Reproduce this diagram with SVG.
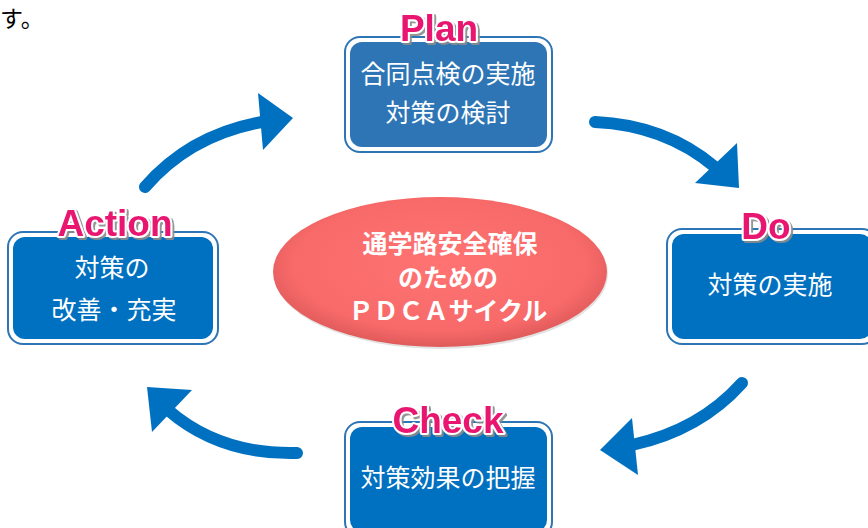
<svg xmlns="http://www.w3.org/2000/svg" width="868" height="528" viewBox="0 0 868 528">
<defs>
<style>
.outer{fill:#ffffff;stroke:#2E75B6;stroke-width:2}
.inner{fill:#0070C0}
.innerP{fill:#2E75B6}
.t{font-family:"Noto Sans CJK JP","Noto Sans",sans-serif;font-size:25px;fill:#ffffff;text-anchor:middle}
.et{font-family:"Noto Sans CJK JP","Noto Sans",sans-serif;font-size:25px;font-weight:bold;fill:#ffffff;text-anchor:middle}
.lbl{font-family:"Liberation Sans","Noto Sans",sans-serif;font-size:37px;font-weight:bold;fill:#E8196F;stroke:#ffffff;stroke-width:4;paint-order:stroke;stroke-linejoin:round;text-anchor:middle;filter:url(#ds)}
.shaft{fill:none;stroke:#0070C0;stroke-width:12;stroke-linecap:round}
.head{fill:#0070C0}
</style>
<filter id="ds" x="-20%" y="-30%" width="140%" height="160%">
<feDropShadow dx="2" dy="2" stdDeviation="0.6" flood-color="#8a8a8a" flood-opacity="0.9"/>
</filter>
<radialGradient id="eg" cx="0.5" cy="0.45" r="0.55">
<stop offset="0" stop-color="#FF7373"/>
<stop offset="0.8" stop-color="#F86A6A"/>
<stop offset="1" stop-color="#E05A5A"/>
</radialGradient>
</defs>
<rect width="868" height="528" fill="#ffffff"/>
<text x="0" y="27" font-family="Noto Sans CJK JP,sans-serif" font-size="23" fill="#000000">す。</text>

<g id="connectors">
<path class="shaft" d="M145,187 Q190,135 262,122"/>
<polygon class="head" points="258,93 293,118 263,150"/>
<path class="shaft" d="M595,122 Q665,125 715,167"/>
<polygon class="head" points="737,143 739,188 695,183"/>
<path class="shaft" d="M742,383 Q700,430 632,445"/>
<polygon class="head" points="632,418 600,450 638,475"/>
<path class="shaft" d="M297,453 Q220,455 168,410"/>
<polygon class="head" points="147,387 192,390 152,432"/>
</g>

<g id="center">
<ellipse cx="441" cy="274" rx="167" ry="75" fill="#cfcfcf" opacity="0.6"/>
<ellipse cx="440" cy="272" rx="167" ry="75" fill="url(#eg)"/>
<text class="et" x="450" y="253">通学路安全確保</text>
<text class="et" x="448" y="287">のための</text>
<text class="et" x="448" y="320">ＰＤＣＡサイクル</text>
</g>

<g id="plan">
<rect class="outer" x="345" y="37" width="207" height="115" rx="15"/>
<rect class="innerP" x="350" y="42" width="197" height="105" rx="12"/>
<text class="lbl" x="439" y="41">Plan</text>
<text class="t" x="448" y="83">合同点検の実施</text>
<text class="t" x="448" y="122">対策の検討</text>
</g>

<g id="do">
<rect class="outer" x="667" y="229" width="210" height="115" rx="15"/>
<rect class="inner" x="672" y="234" width="200" height="105" rx="12"/>
<text class="lbl" x="766" y="239">Do</text>
<text class="t" x="770" y="294">対策の実施</text>
</g>

<g id="action">
<rect class="outer" x="8" y="232" width="210" height="112" rx="15"/>
<rect class="inner" x="13" y="237" width="200" height="102" rx="12"/>
<text class="lbl" x="115" y="236">Action</text>
<text class="t" x="112" y="277">対策の</text>
<text class="t" x="114" y="319">改善・充実</text>
</g>

<g id="check">
<rect class="outer" x="345" y="422" width="207" height="115" rx="15"/>
<rect class="inner" x="350" y="427" width="197" height="105" rx="12"/>
<text class="lbl" x="448" y="433">Check</text>
<text class="t" x="448" y="487">対策効果の把握</text>
</g>
</svg>
